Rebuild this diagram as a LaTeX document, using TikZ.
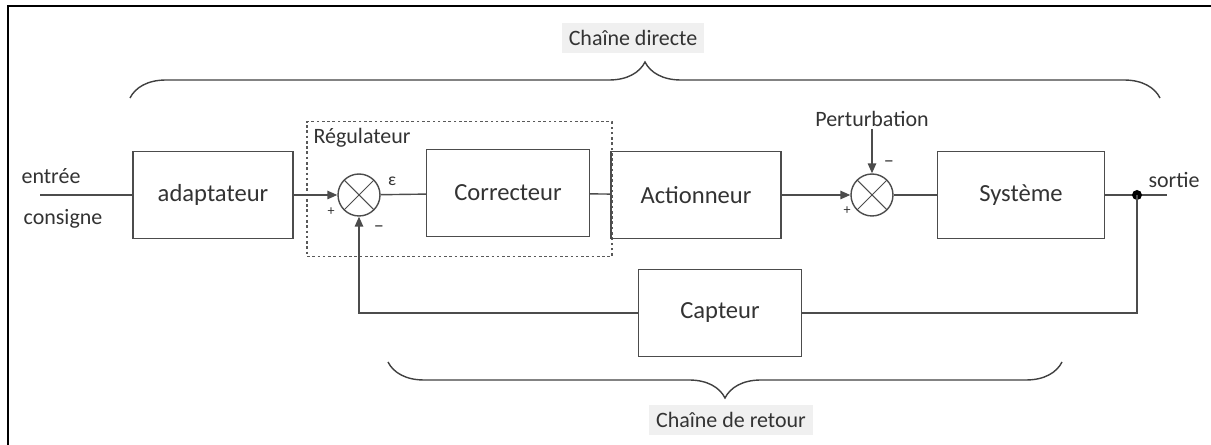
\documentclass[tikz,border=0pt]{standalone}
\usepackage{fontspec}
\setmainfont{Carlito}
\usetikzlibrary{arrows.meta, positioning, decorations.pathreplacing}

\begin{document}
\begin{tikzpicture}[x=0.02cm, y=-0.02cm,
    bloc/.style={draw=black!70, line width=0.8pt, minimum width=3.2cm,
                 minimum height=1.75cm, inner sep=0pt, text=black!80,
                 font=\fontsize{14}{16}\selectfont},
    somme/.style={draw=black!70, line width=0.8pt, circle, minimum size=0.84cm, inner sep=0pt,
                  path picture={\draw[black!70, line width=0.6pt]
                    (path picture bounding box.north west) -- (path picture bounding box.south east)
                    (path picture bounding box.north east) -- (path picture bounding box.south west);}},
    lien/.style={draw=black!70, line width=0.8pt},
    fleche/.style={-{Triangle[length=2mm, width=1.7mm]}},
    lbl/.style={font=\fontsize{12.5}{15}\selectfont, text=black!80, inner sep=1pt},
    signe/.style={font=\fontsize{8}{9}\selectfont, text=black!80, inner sep=0pt},
    titre/.style={lbl, fill=black!6, inner sep=4pt},
    regul/.style={draw=black!65, line width=0.9pt, dash pattern=on 1.5pt off 1.5pt,
                  minimum width=6.1cm, minimum height=2.7cm, inner sep=0pt},
    accolade/.style={decorate, decoration={brace, amplitude=0.72cm}, draw=black!75, line width=0.8pt},
]
\useasboundingbox (0,0) rectangle (1211,445);
% cadre
\draw[line width=1.6pt] (1211,6) -- (8,6) -- (8,445);

% blocs de la chaine
\node[regul] (reg) at (459.5,189) {};
\node[lbl, anchor=north west] (regtxt) at ([xshift=3pt,yshift=-3pt]reg.north west) {Régulateur};
\node[bloc] (adapt) at (213,195) {adaptateur};
\node[bloc, minimum width=3.26cm] (corr) at (508,193) {Correcteur};
\node[bloc, minimum width=3.4cm] (act) at (696,195) {Actionneur};
\node[bloc, minimum width=3.34cm] (sys) at (1021,195) {Système};
\node[bloc, minimum width=3.26cm] (cap) at (720,313) {Capteur};
\node[somme] (s1) at (359,195) {};
\node[somme] (s2) at (872,195) {};

% entree / sortie
\coordinate (ent) at (40,195);
\coordinate (fin) at (1167,195);
\coordinate (pt) at (1137,195);
\node[lbl] (entree) at (51,176) {entrée};
\node[lbl] (consigne) at (63,219) {consigne};
\node[lbl] (sortie) at (1174,180) {sortie};
\node[lbl] (pert) at (872,119) {Perturbation};

% liaisons
\draw[lien] (ent) -- (adapt);
\draw[lien, fleche] (adapt) -- (s1);
\draw[lien] (s1) -- (corr);
\draw[lien] (corr) -- (act);
\draw[lien, fleche] (act) -- (s2);
\draw[lien] (s2) -- (sys);
\draw[lien] (sys) -- (fin);
\fill[black] (pt) circle (5);
\draw[lien] (pt) |- (cap);
\draw[lien, fleche] (cap) -| (s1);
\draw[lien, fleche] (pert) -- (s2);

% signes
\node[signe] at (331,212) {+};
\node[signe, font=\fontsize{11}{12}\selectfont] at (379,229) {−};
\node[signe, font=\fontsize{10}{12}\selectfont] at (392,181) {ε};
\node[signe] at (847,211) {+};
\node[signe, font=\fontsize{11}{12}\selectfont] at (889,164) {−};

% accolades
\draw[accolade] (130,98) -- (1160,98);
\draw[accolade] (1062,362) -- (388,362);
\node[titre] (cd) at (633,38) {Chaîne directe};
\node[titre] (cr) at (731,420) {Chaîne de retour};
\end{tikzpicture}
\end{document}
